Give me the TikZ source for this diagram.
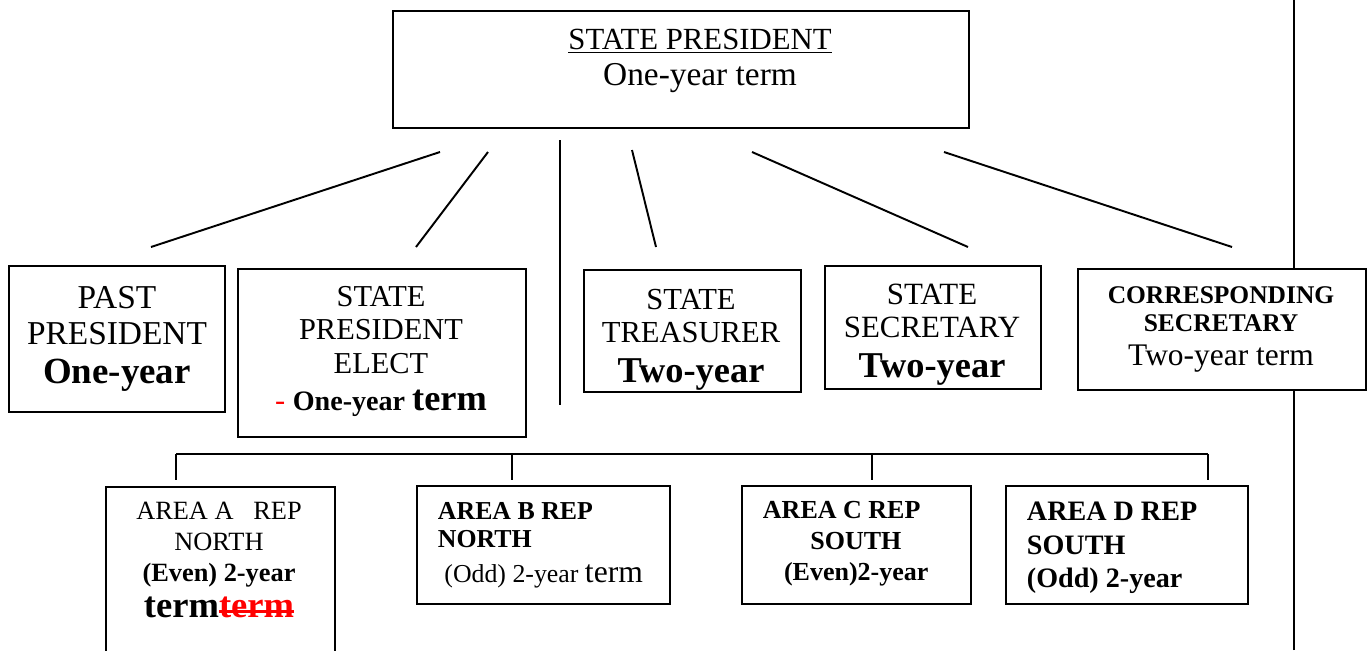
\documentclass[tikz,border=0pt]{standalone}
\usepackage{fontspec}
\setmainfont{Liberation Serif}
\usetikzlibrary{positioning}
\newcommand{\fsz}[2]{\fontsize{#1}{#2}\selectfont}
\newsavebox{\strikebox}
\newcommand{\strikeout}[1]{\sbox{\strikebox}{#1}\rlap{\usebox{\strikebox}}\rule[0.3ex]{\wd\strikebox}{0.07em}}

\begin{document}
\begin{tikzpicture}[x=0.02cm, y=-0.02cm, line width=1.1pt]
  \useasboundingbox (0,0) rectangle (1367,650);

  % boxes
  \begin{scope}[every node/.style={draw, anchor=north west, inner sep=0pt}]
    \node [minimum width=11.52cm, minimum height=2.34cm] (pres) at (392,10) {};
    \node [minimum width=4.32cm, minimum height=2.92cm] (past) at (8,265) {};
    \node [minimum width=5.76cm, minimum height=3.36cm] (elect) at (237,268) {};
    \node [minimum width=4.34cm, minimum height=2.44cm] (treas) at (583,269) {};
    \node [minimum width=4.32cm, minimum height=2.46cm] (secr) at (824,265) {};
    \node [minimum width=5.76cm, minimum height=2.42cm] (corr) at (1077,268) {};
    \node [minimum width=4.58cm, minimum height=4.4cm] (areaA) at (105,486) {};
    \node [minimum width=5.06cm, minimum height=2.36cm] (areaB) at (416,485) {};
    \node [minimum width=4.58cm, minimum height=2.36cm] (areaC) at (741,485) {};
    \node [minimum width=4.84cm, minimum height=2.36cm] (areaD) at (1005,485) {};
  \end{scope}

  % texts
  \begin{scope}[every node/.style={align=center, inner sep=0pt}]
    \node [font=\fsz{17.5}{20.4}] (presTxt) at (700,61) {\underline{STATE PRESIDENT}\\ \fsz{19}{20.4}One-year term};
    \node [font=\fsz{19}{20.4}] (pastTxt) at (117,339) {PAST\\ PRESIDENT\\[2pt] \fsz{21}{23}\bfseries One-year};
    \node [font=\fsz{17.3}{19.2}] (electTxt) at (381,351.5) {STATE\\ PRESIDENT\\ ELECT\\[2pt]
      \textcolor{red}{-} \fsz{16}{22}\bfseries One-year \fsz{20.7}{22}term};
    \node [font=\fsz{17.4}{18.7}] (treasTxt) at (691,339.5) {STATE\\ TREASURER\\[4pt] \fsz{20.7}{23}\bfseries Two-year};
    \node [font=\fsz{17.6}{18.7}] (secrTxt) at (932,335) {STATE\\ SECRETARY\\[4pt] \fsz{20.7}{23}\bfseries Two-year};
    \node [font=\fsz{14.5}{15.9}] (corrTxt) at (1221,329.5) {\bfseries CORRESPONDING\\ \bfseries SECRETARY\\[3pt] \fsz{17.9}{19.8}Two-year term};
    \node [font=\fsz{15}{17.6}] (areaATxt) at (219,560) {AREA A\ \ \ REP\\ NORTH\\ \bfseries (Even) 2-year\\[3pt]
      \fsz{20.8}{21.5}\bfseries term\textcolor{red}{\strikeout{term}}};
    \node [font=\fsz{14.7}{16}, align=left, anchor=west] (areaBTxt) at (437,545.5) {\bfseries AREA B REP\\ \bfseries NORTH\\[4pt]
      \ (Odd) 2-year \fsz{18}{20.4}term};
    \node [font=\bfseries\fsz{14.8}{17.6}, align=left, anchor=west] (areaCTxt) at (762,543.5) {AREA C REP\\ \hspace*{27pt}SOUTH\\ \hspace*{12pt}(Even)2-year};
    \node [font=\bfseries\fsz{16}{19}, align=left, anchor=west] (areaDTxt) at (1026,548) {AREA D REP\\ SOUTH\\ (Odd) 2-year};
  \end{scope}

  % connectors from the president
  \coordinate (p1) at (440,152); \coordinate (q1) at (151,247);
  \coordinate (p2) at (488,152); \coordinate (q2) at (416,247);
  \coordinate (p3) at (560,140); \coordinate (q3) at (560,405);
  \coordinate (p4) at (632,150); \coordinate (q4) at (656,247);
  \coordinate (p5) at (752,152); \coordinate (q5) at (968,247);
  \coordinate (p6) at (944,152); \coordinate (q6) at (1232,247);
  \foreach \i in {1,...,6}
    \draw (p\i) -- (q\i);

  % bus over the area reps
  \coordinate (busL) at (176,454);
  \coordinate (busR) at (1208,454);
  \draw (busL) -- (busR);
  \foreach \n/\x in {A/176,B/512,C/872,D/1208} {
    \coordinate (bus\n) at (\x,454);
    \draw (bus\n) -- ++(0,26);
  }

  % right margin line
  \coordinate (rtop) at (1294,0);
  \coordinate (rbot) at (1294,650);
  \draw (rtop) -- (rtop |- corr.north);
  \draw (rbot) -- (rbot |- corr.south);
\end{tikzpicture}
\end{document}
